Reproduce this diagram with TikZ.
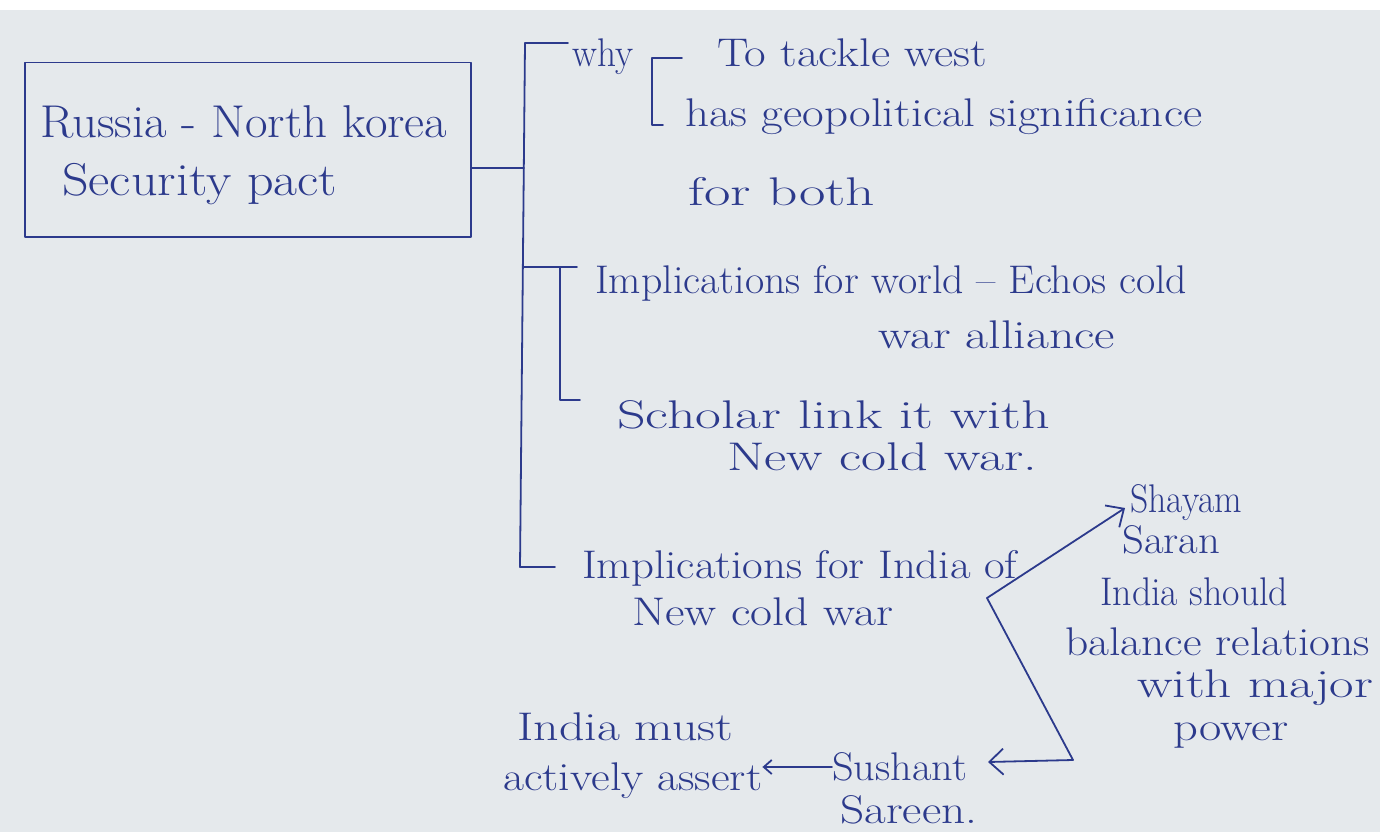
\documentclass[tikz,border=0pt]{standalone}
\usepackage{graphicx}
\usetikzlibrary{arrows.meta}
\definecolor{paper}{RGB}{229,233,236}
\definecolor{ink}{RGB}{44,58,140}
\newlength\fitlen
\newcommand\fitw[2]{\settowidth\fitlen{#2}\pgfmathsetmacro\fitsc{#1/\fitlen}\scalebox{\fitsc}[1]{#2}}
\tikzset{
  ink/.style={draw=ink, line width=1.8pt, line cap=round, line join=round},
  txt/.style={text=ink, anchor=base west, inner sep=0pt, font=\fontsize{40}{44}\selectfont},
  bigtxt/.style={txt, font=\fontsize{46}{50}\selectfont},
  arr/.style={ink, -{Straight Barb[length=14pt,width=26pt]}},
  smallarr/.style={ink, -{Straight Barb[length=8pt,width=14pt]}}
}
\begin{document}
\begin{tikzpicture}[x=1pt,y=-1pt]
\fill[paper] (0,0) rectangle (1380,832);
\fill[white] (0,0) rectangle (1380,10);
\useasboundingbox (0,0) rectangle (1380,832);
% main box
\node[ink, draw, line width=1.5pt, minimum width=446pt, minimum height=174pt, anchor=north west, inner sep=0pt] (box) at (24,62) {};
\node[bigtxt] (t1) at (40,137) {\fitw{407}{Russia - North korea}};
\node[bigtxt] (t2) at (62,195) {\fitw{275}{Security pact}};
% main bracket
\coordinate (mtop) at (525,43);
\coordinate (mbot) at (520,567);
\coordinate (mmid) at (524,168);
\draw[ink] (box.east |- mmid) -- (mmid);
\draw[ink] (mtop) -- (mbot);
% why
\node[txt] (why) at (572,67) {\fitw{61}{why}};
\draw[ink] (mtop) -- (568,43);
\coordinate (wtop) at (652,58);
\coordinate (wbot) at (652,125);
\node[txt] (w1) at (717,67) {\fitw{270}{To tackle west}};
\node[txt] (w2) at (685,127) {\fitw{517}{has geopolitical significance}};
\node[txt] (w3) at (688,205) {\fitw{187}{for both}};
\draw[ink] (682,58) -- (wtop) -- (wbot) -- (663,125);
% implications for world
\coordinate (b2) at (523,267);
\coordinate (s2) at (560,267);
\coordinate (s2b) at (560,400);
\node[txt] (i1) at (595,293) {\fitw{592}{Implications for world -- Echos cold}};
\node[txt] (i1b) at (878,348) {\fitw{237}{war alliance}};
\node[txt] (i2) at (617,428) {\fitw{433}{Scholar link it with}};
\node[txt] (i2b) at (727,470) {\fitw{310}{New cold war.}};
\draw[ink] (b2) -- (577,267);
\draw[ink] (s2) -- (s2b) -- (580,400);
% implications for India
\node[txt] (j1) at (582,578) {\fitw{435}{Implications for India of}};
\node[txt] (j1b) at (632,625) {\fitw{261}{New cold war}};
\draw[ink] (mbot) -- (555,567);
% Shayam Saran
\coordinate (fork) at (987,598);
\coordinate (turn) at (1073,760);
\coordinate (shtip) at (1125,508);
\coordinate (sutip) at (988,762);
\node[txt] (sh1) at (1130,512) {\fitw{112}{Shayam}};
\node[txt] (sh2) at (1122,553) {\fitw{98}{Saran}};
\node[txt] (sh3) at (1100,605) {\fitw{188}{India should}};
\node[txt] (sh4) at (1065,655) {\fitw{305}{balance relations}};
\node[txt] (sh5) at (1137,697) {\fitw{236}{with major}};
\node[txt] (sh6) at (1173,740) {\fitw{115}{power}};
\draw[arr] (fork) -- (shtip);
% Sushant Sareen
\node[txt] (su1) at (832,780) {\fitw{135}{Sushant}};
\node[txt] (su2) at (840,823) {\fitw{137}{Sareen.}};
\draw[arr] (fork) -- (turn) -- (sutip);
% India must
\node[txt] (im1) at (517,740) {\fitw{216}{India must}};
\node[txt] (im2) at (503,790) {\fitw{259}{actively assert}};
\draw[smallarr] (su1.west |- 0,767) -- (im2.east |- 0,767);
\end{tikzpicture}
\end{document}
